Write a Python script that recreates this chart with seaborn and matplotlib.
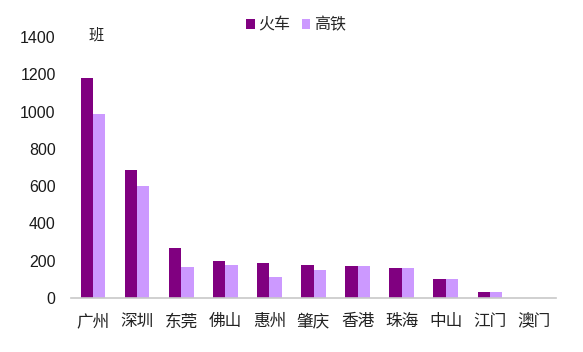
import matplotlib
matplotlib.use("Agg")
import matplotlib.pyplot as plt
import numpy as np
import pandas as pd
import seaborn as sns

cities = ["广州", "深圳", "东莞", "佛山", "惠州", "肇庆", "香港", "珠海", "中山", "江门", "澳门"]
train = [1180, 685, 270, 200, 190, 175, 170, 160, 100, 30, 0]
hsr = [985, 600, 168, 175, 115, 148, 170, 160, 100, 30, 0]
series = ["火车", "高铁"]
colors = ["#800080", "#CC99FF"]

df = pd.DataFrame({
    "city": cities * 2,
    "kind": [series[0]] * len(cities) + [series[1]] * len(cities),
    "value": train + hsr,
})

sns.set_style("white")
plt.rcParams["font.family"] = ["Liberation Sans", "Noto Sans CJK SC", "DejaVu Sans"]

fig = plt.figure(figsize=(5.83, 3.52), dpi=100)
ax = fig.add_axes([71 / 583, 1 - 298 / 352, (556 - 71) / 583, (298 - 37) / 352])

sns.barplot(data=df, x="city", y="value", hue="kind", palette=colors,
            width=0.56, gap=0, saturation=1, ax=ax, edgecolor="none")

ax.set_ylim(0, 1400)
ax.set_xlim(-0.5, len(cities) - 0.5)
ax.set_yticks(range(0, 1401, 200))
ax.set_xlabel("")
ax.set_ylabel("")

for s in ["top", "right", "left"]:
    ax.spines[s].set_visible(False)
ax.spines["bottom"].set_color("#c8c8c8")
ax.spines["bottom"].set_linewidth(1.2)

ax.tick_params(axis="y", length=0, labelsize=11.5, pad=11, labelcolor="#1a1a1a")
ax.tick_params(axis="x", which="major", length=0, labelsize=12, pad=11, labelcolor="#222222")
ax.set_xticks(np.arange(-0.5, len(cities), 1.0), minor=True)
ax.tick_params(axis="x", which="minor", length=4, color="#c8c8c8", width=1)
for lab in ax.get_xticklabels():
    lab.set_family(["Noto Sans CJK SC", "DejaVu Sans"])

ax.text(0.07, 1410, "班", fontsize=11, family=["Noto Sans CJK SC"],
        ha="center", va="center", color="#222222")

ax.legend(title=None, loc="center", bbox_to_anchor=(0.464, 1.046), ncol=2,
          frameon=False, handlelength=0.55, handleheight=0.55,
          handletextpad=0.2, columnspacing=0.7,
          prop={"family": ["Noto Sans CJK SC"], "size": 11.5})

fig.savefig("out.png", dpi=100)
